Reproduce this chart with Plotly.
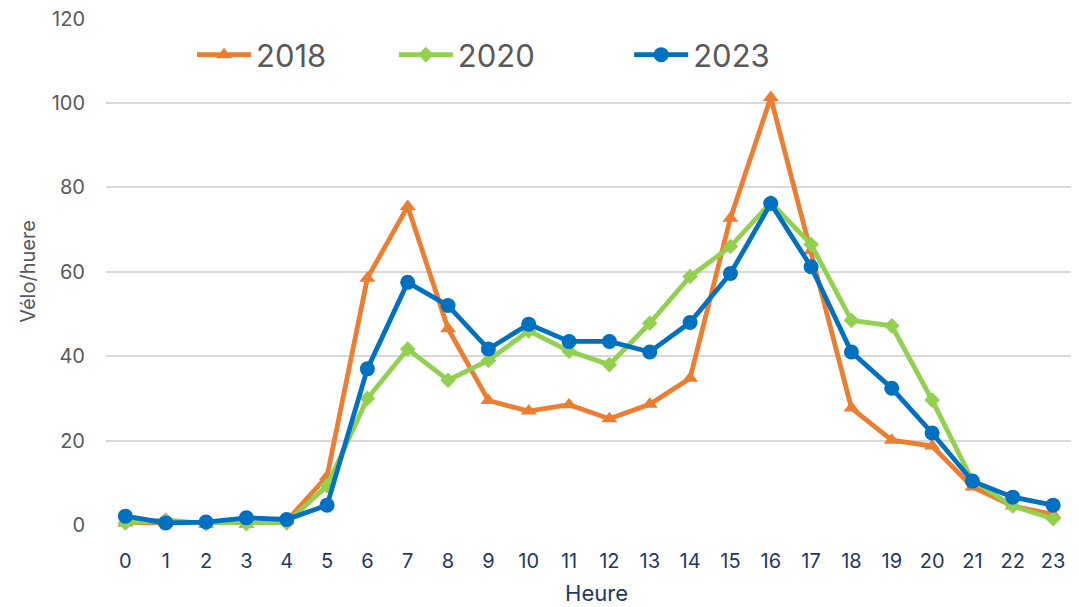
import plotly.graph_objects as go

hours = list(range(24))
hour_labels = [str(h) for h in hours]
y_2018 = [0.5, 0.5, 0.2, 0.2, 1.0, 11.5, 58.5, 75.5, 46.5, 29.5, 27.0, 28.5,
          25.2, 28.6, 34.8, 72.7, 101.3, 65.0, 27.7, 20.1, 18.7, 9.0, 4.5, 2.5]
y_2020 = [0.5, 1.2, 0.3, 0.3, 0.5, 9.3, 30.0, 41.7, 34.3, 39.0, 46.0, 41.2,
          38.0, 47.8, 58.9, 66.0, 76.4, 66.5, 48.5, 47.2, 29.6, 10.5, 4.5, 1.5]
y_2023 = [2.1, 0.5, 0.7, 1.7, 1.3, 4.7, 37.0, 57.5, 52.0, 41.7, 47.6, 43.5,
          43.5, 41.0, 48.0, 59.6, 76.2, 61.2, 41.0, 32.4, 21.8, 10.4, 6.6, 4.7]
y_ticks = [0, 20, 40, 60, 80, 100, 120]

FONT = "Inter"
# legend x positions rescaled for plot width 981 px (was 973)
series = [
    ("2018", y_2018, "#ED7D31", "triangle-up", 14, "legend", 0.0877),
    ("2020", y_2020, "#92D050", "diamond", 12, "legend2", 0.2934),
    ("2023", y_2023, "#0070C0", "circle", 15, "legend3", 0.5333),
]

fig = go.Figure()
legends = {}
for name, vals, col, sym, size, leg, lx in series:
    fig.add_trace(go.Scatter(
        x=hours, y=vals, name=name, mode="lines+markers",
        line=dict(color=col, width=4.8),
        marker=dict(symbol=sym, size=size, color=col),
        cliponaxis=False, legend=leg,
    ))
    legends[leg] = dict(
        orientation="h", x=lx, y=0.927, xanchor="left", yanchor="middle",
        font=dict(size=31, color="#595959", family=FONT),
        itemwidth=54, bgcolor="rgba(0,0,0,0)",
    )

fig.update_layout(
    width=1079, height=607,
    margin=dict(l=98, r=0, t=10, b=90, autoexpand=False),
    paper_bgcolor="white", plot_bgcolor="white",
    font=dict(family=FONT, color="#595959"),
    showlegend=True,
    xaxis=dict(
        range=[-0.48, 23.84], tickmode="array", tickvals=hours, ticktext=hour_labels,
        showgrid=False, zeroline=False, showline=False, ticks="",
        tickfont=dict(size=20, color="#1F3864", family=FONT),
        ticklabelstandoff=22, ticklabeloverflow="allow", automargin=False,
        title=dict(text="Heure", font=dict(size=22, color="#1F3864", family=FONT), standoff=13),
    ),
    yaxis=dict(
        range=[0, 120.15], tickvals=y_ticks,
        showgrid=True, gridcolor="#D9D9D9", gridwidth=1.5,
        zeroline=False, showline=False, ticks="",
        tickfont=dict(size=20, color="#595959", family=FONT),
        ticklabelstandoff=20, ticklabeloverflow="allow", automargin=False,
        title=dict(text="Vélo/huere", font=dict(size=20, color="#595959", family=FONT), standoff=10),
    ),
    **legends,
)

fig.write_html("out.html")
